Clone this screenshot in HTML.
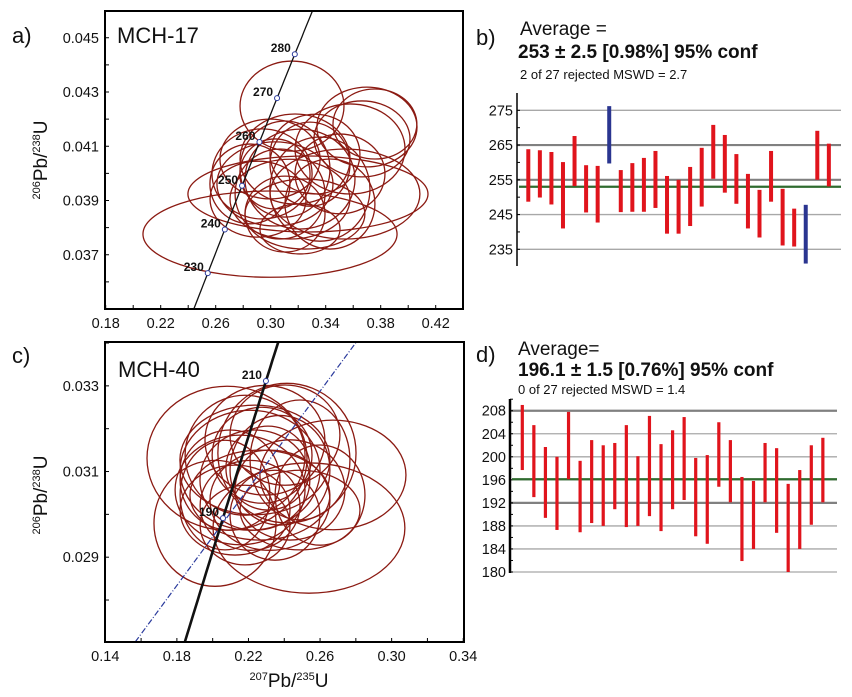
<!DOCTYPE html>
<html><head><meta charset="utf-8"><style>
html,body{margin:0;padding:0;background:#fff;width:852px;height:697px;overflow:hidden}
svg{display:block;overflow:hidden;font-family:"Liberation Sans",Arial,sans-serif}
</style></head><body>
<svg id="fig" width="852" height="697" viewBox="0 0 852 697" xmlns="http://www.w3.org/2000/svg">
<g id="pa"></g>
<g id="pb"></g>
<g id="pc"></g>
<g id="pd"></g>
</svg>
<script>
// ---------- Panel a data ----------
const aCx=[0.2995,0.3271,0.3155,0.3700,0.3664,0.3758,0.3577,0.3540,0.2937,0.3031,0.3104,0.3213,0.3140,0.3286,0.3068,0.3358,0.2849,0.3177,0.3431,0.2995,0.3249,0.3104,0.2908,0.3322,0.3213,0.3504,0.3031];
const aCy=[0.03776,0.03924,0.04248,0.04171,0.04127,0.04182,0.04090,0.03924,0.03998,0.03961,0.04016,0.03979,0.03905,0.04034,0.03924,0.03942,0.03961,0.04053,0.03887,0.04053,0.03850,0.03850,0.03905,0.04071,0.03795,0.03998,0.03998];
const aRx=[0.0924,0.0873,0.0378,0.0364,0.0349,0.0305,0.0400,0.0545,0.0364,0.0422,0.0327,0.0400,0.0436,0.0291,0.0327,0.0364,0.0291,0.0400,0.0327,0.0364,0.0436,0.0291,0.0349,0.0327,0.0291,0.0327,0.0255];
const aRy=[0.00159,0.00140,0.00166,0.00147,0.00140,0.00129,0.00166,0.00166,0.00166,0.00155,0.00177,0.00184,0.00147,0.00155,0.00166,0.00192,0.00147,0.00166,0.00166,0.00147,0.00129,0.00140,0.00140,0.00147,0.00092,0.00147,0.00129];
const aAges=[230,240,250,260,270,280];
const aXTicks=["0.18","0.22","0.26","0.30","0.34","0.38","0.42"];
const aYTicks=["0.037","0.039","0.041","0.043","0.045"];
// ---------- Panel c data ----------
const cCx=[0.2538,0.2672,0.2080,0.2013,0.2415,0.2292,0.2209,0.2153,0.2320,0.2236,0.2125,0.2376,0.2276,0.2181,0.2432,0.2488,0.2097,0.2348,0.2264,0.2209,0.2404,0.2181,0.2309,0.2488,0.2069,0.2600,0.2236];
const cCy=[0.02968,0.03092,0.03131,0.02979,0.03143,0.03173,0.03103,0.03057,0.03033,0.03080,0.03010,0.03103,0.03138,0.03138,0.03057,0.03127,0.03080,0.02998,0.03045,0.03021,0.03185,0.02975,0.03108,0.03010,0.03045,0.03045,0.03127];
const cRx=[0.0536,0.0408,0.0447,0.0341,0.0386,0.0335,0.0391,0.0363,0.0335,0.0307,0.0307,0.0279,0.0279,0.0335,0.0307,0.0279,0.0279,0.0251,0.0391,0.0279,0.0307,0.0251,0.0235,0.0335,0.0251,0.0251,0.0419];
const cRy=[0.00152,0.00128,0.00168,0.00147,0.00163,0.00128,0.00140,0.00128,0.00117,0.00117,0.00105,0.00128,0.00112,0.00140,0.00117,0.00140,0.00117,0.00105,0.00105,0.00105,0.00117,0.00093,0.00098,0.00093,0.00128,0.00117,0.00128];
const cAges=[190,210];
const cXTicks=["0.14","0.18","0.22","0.26","0.30","0.34"];
const cYTicks=["0.029","0.031","0.033"];
const cDiscX=[0.1567,0.2802];
const cDiscY=[0.02702,0.03402];
// ---------- Panel b data ----------
const bTop=[263.8,263.5,263.0,260.1,267.6,259.2,259.0,276.2,257.8,259.8,261.3,263.3,256.1,255.0,258.7,264.2,270.8,267.9,262.4,256.7,252.1,263.3,252.4,246.7,247.8,269.1,265.4];
const bBot=[248.7,249.9,247.9,241.0,253.2,245.6,242.7,259.7,245.7,245.8,245.8,246.9,239.5,239.5,241.7,247.3,255.3,251.3,248.1,241.0,238.4,248.7,236.1,235.8,230.9,255.0,253.1];
const bRejected=[7,24];
const bMean=[253.0];
const bYTicks=[235,245,255,265,275];
// ---------- Panel d data ----------
const dTop=[209.0,205.5,201.7,200.0,207.8,199.3,202.9,202.0,202.4,205.5,200.1,207.1,202.2,204.6,206.9,199.8,200.3,206.0,202.9,196.5,195.8,202.4,201.5,195.3,197.7,202.0,203.3];
const dBot=[197.7,193.0,189.4,187.3,196.1,186.9,188.5,188.0,190.9,187.8,188.0,189.7,187.1,190.9,192.5,186.2,184.9,194.8,192.1,181.9,184.0,192.1,186.8,180.0,184.0,188.2,192.1];
const dMean=[196.1];
const dYTicks=[180,184,188,192,196,200,204,208];

const NS="http://www.w3.org/2000/svg";
function mk(parent,tag,attrs,txt){const e=document.createElementNS(NS,tag);for(const k in attrs)e.setAttribute(k,attrs[k]);if(txt!==undefined)e.textContent=txt;parent.appendChild(e);return e;}
const L238=1.55125e-4, L235=9.8485e-4; // per Ma
function conc(t){return [Math.exp(L235*t)-1,Math.exp(L238*t)-1];}

function concPanel(g,o){
  const X=v=>o.x0+(v-o.xmin)*o.kx, Y=v=>o.y0-(v-o.ymin)*o.ky;
  const cid="clip"+o.id;
  const defs=mk(g,'defs',{});const cp=mk(defs,'clipPath',{id:cid});mk(cp,'rect',{x:o.L,y:o.T,width:o.R-o.L,height:o.B-o.T});
  const pg=mk(g,'g',{'clip-path':'url(#'+cid+')'});
  for(let i=0;i<o.cx.length;i++){
    const el=mk(pg,'ellipse',{cx:X(o.cx[i]),cy:Y(o.cy[i]),rx:o.rx[i]*o.kx,ry:o.ry[i]*o.ky,fill:'none',stroke:'#8b1a12','stroke-width':1.3});
    
    
  }
  if(o.disc){const dl=mk(pg,'line',{x1:X(o.disc[0][0]),y1:Y(o.disc[1][0]),x2:X(o.disc[0][1]),y2:Y(o.disc[1][1]),stroke:'#2a3a9c','stroke-width':1.2,'stroke-dasharray':'6,2,1,2'});
    
    }
  let d='';for(let t=o.t0;t<=o.t1;t+=1){const p=conc(t);d+=(d?'L':'M')+X(p[0]).toFixed(1)+','+Y(p[1]).toFixed(1);}
  const cl=mk(pg,'path',{d:d,fill:'none',stroke:'#111','stroke-width':o.cw});
  
  
  o.ages.forEach(a=>{const p=conc(a);const px=X(p[0]),py=Y(p[1]);
    const c=mk(pg,'circle',{cx:px,cy:py,r:2.5,fill:'#fff',stroke:'#2a3a9c','stroke-width':1});
    
    
    const t=mk(pg,'text',{x:px-4,y:py-2,'text-anchor':'end','font-size':12,'font-weight':'bold',fill:'#111'},String(a));
    
    });
  const fr=mk(g,'rect',{x:o.L,y:o.T,width:o.R-o.L,height:o.B-o.T,fill:'none',stroke:'#000','stroke-width':2});
  
  
  const xs=Math.ceil(o.xmin/o.xminor-1e-6)*o.xminor;
  for(let v=xs;v<=o.xmax+1e-9;v+=o.xminor){const px=X(v);if(px>o.R+0.5)break;mk(g,'line',{x1:px,y1:o.B,x2:px,y2:o.B-4,stroke:'#000','stroke-width':1});}
  o.xt.forEach(s=>{const px=X(parseFloat(s));const t=mk(g,'text',{x:px,y:o.B+19,'text-anchor':'middle','font-size':14.5,fill:'#111'},s);
    
    });
  const ys=Math.ceil(o.ymin/o.yminor-1e-6)*o.yminor;
  for(let v=ys;v<=o.ymax+1e-9;v+=o.yminor){const py=Y(v);if(py<o.T)break;mk(g,'line',{x1:o.L,y1:py,x2:o.L+4,y2:py,stroke:'#000','stroke-width':1});}
  o.yt.forEach(s=>{const py=Y(parseFloat(s));const t=mk(g,'text',{x:o.L-6,y:py+5,'text-anchor':'end','font-size':14.5,fill:'#111'},s);
    
    });
}

concPanel(document.getElementById('pa'),{id:'a',L:105,T:11,R:463,B:309,x0:105.7,xmin:0.18,xmax:0.44,kx:1375,y0:309,ymin:0.035,ymax:0.046,ky:27125,
  cx:aCx,cy:aCy,rx:aRx,ry:aRy,ages:aAges,t0:200,t1:310,cw:1.3,xt:aXTicks,yt:aYTicks,xminor:0.02,yminor:0.001});
concPanel(document.getElementById('pc'),{id:'c',L:105,T:342,R:464,B:642,x0:105.3,xmin:0.14,xmax:0.34,kx:1789.6,y0:642,ymin:0.02702,ymax:0.0341,ky:42833,
  cx:cCx,cy:cCy,rx:cRx,ry:cRy,ages:cAges,t0:150,t1:250,cw:2.6,xt:cXTicks,yt:cYTicks,xminor:0.02,yminor:0.001,disc:[cDiscX,cDiscY]});

function txt(g,x,y,s,size,extra,name){const t=mk(g,'text',Object.assign({x:x,y:y,'font-size':size,fill:'#111'},extra||{}),s);
  
  return t;}
const pa=document.getElementById('pa'),pc=document.getElementById('pc');
txt(pa,12,43,'a)',22,{},'panel-label-a');
txt(pa,117,43,'MCH-17',22,{},'sample-title');
txt(pc,12,363,'c)',22,{},'panel-label-c');
txt(pc,118,377,'MCH-40',22,{},'sample-title');
function ytitle(g,cx,cy){const t=mk(g,'text',{transform:'translate('+cx+','+cy+') rotate(-90)','text-anchor':'middle','font-size':19,fill:'#111'});
  
  
  t.innerHTML='<tspan font-size="11" dy="-7">206</tspan><tspan dy="7">Pb/</tspan><tspan font-size="11" dy="-7">238</tspan><tspan dy="7">U</tspan>';}
ytitle(pa,47,160);ytitle(pc,47,495);
(function(){const t=mk(pc,'text',{x:289,y:687,'text-anchor':'middle','font-size':19,fill:'#111'});
  
  
  t.innerHTML='<tspan font-size="11" dy="-7">207</tspan><tspan dy="7">Pb/</tspan><tspan font-size="11" dy="-7">235</tspan><tspan dy="7">U</tspan>';})();

function wavg(g,o){
  const Y=v=>o.y0-(v-o.vmin)*o.k;
  o.yt.forEach((v,i)=>{const py=Y(v);const thick=o.thick.indexOf(v)>=0;
    const gl=mk(g,'line',{x1:o.ax,y1:py,x2:o.gx2,y2:py,stroke:thick?'#808080':'#a8a8a8','stroke-width':thick?2.2:1.3});
    
    
    const t=mk(g,'text',{x:o.ax-4,y:py+5,'text-anchor':'end','font-size':14.5,fill:'#111'},String(v));
    
    });
  const ax=mk(g,'line',{x1:o.ax,y1:o.aT,x2:o.ax,y2:o.aB,stroke:'#000','stroke-width':o.aw});
  
  
  for(let v=o.vmin-o.minor*4;v<=o.vmax+o.minor*4;v+=o.minor){const py=Y(v);if(py<o.aT||py>o.aB)continue;mk(g,'line',{x1:o.ax,y1:py,x2:o.ax+3,y2:py,stroke:'#000','stroke-width':1});}
  const mean=mk(g,'line',{x1:o.mx1,y1:Y(o.mean[0]),x2:o.gx2,y2:Y(o.mean[0]),stroke:'#2f6b2f','stroke-width':2.2});
  
  
  for(let i=0;i<o.top.length;i++){const px=o.bx0+i*o.bstep;const rej=o.rej.indexOf(i)>=0;
    const b=mk(g,'rect',{x:px-o.bw/2,y:Y(o.top[i]),width:o.bw,height:Y(o.bot[i])-Y(o.top[i]),fill:rej?'#2a3590':'#e0141c'});
    
    }
}
const pb=document.getElementById('pb'),pd=document.getElementById('pd');
wavg(pb,{y0:249.3,vmin:235,vmax:275,k:3.475,yt:bYTicks,thick:[255,265],ax:517,gx2:841,aT:93,aB:266,aw:1.5,minor:5,mean:bMean,mx1:519,
  top:bTop,bot:bBot,rej:bRejected,bx0:528.3,bstep:11.56,bw:4});
wavg(pd,{y0:572,vmin:180,vmax:208,k:5.76,yt:dYTicks,thick:[192,208],ax:510,gx2:837,aT:399,aB:573,aw:2.5,minor:2,mean:dMean,mx1:512,
  top:dTop,bot:dBot,rej:[],bx0:522.3,bstep:11.56,bw:3.2});
txt(pb,476,45,'b)',22,{},'panel-label-b');
txt(pb,520,35,'Average =',19,{},'average-label');
txt(pb,518,58,'253 ± 2.5 [0.98%] 95% conf',19,{'font-weight':'bold'},'average-value');
txt(pb,520,79,'2 of 27 rejected MSWD = 2.7',13,{},'mswd-text');
txt(pd,476,362,'d)',22,{},'panel-label-d');
txt(pd,518,355,'Average=',19,{},'average-label');
txt(pd,518,376,'196.1 ± 1.5 [0.76%] 95% conf',19,{'font-weight':'bold'},'average-value');
txt(pd,518,394,'0 of 27 rejected MSWD = 1.4',13,{},'mswd-text');
</script>
</body></html>
